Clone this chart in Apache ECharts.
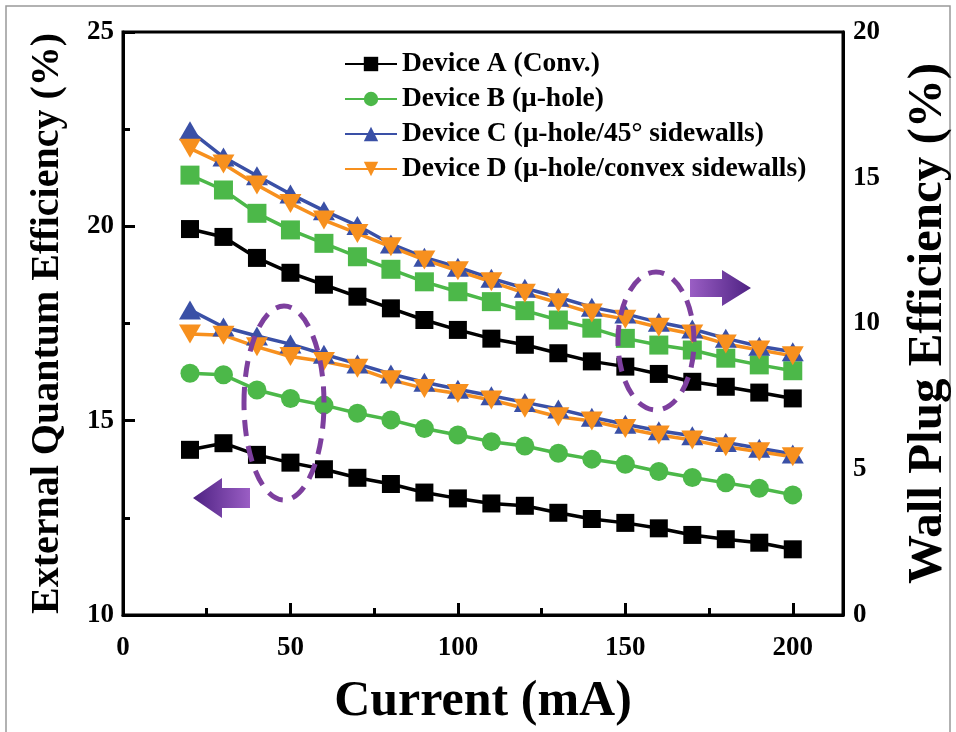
<!DOCTYPE html>
<html>
<head>
<meta charset="utf-8">
<script src="https://cdn.jsdelivr.net/npm/echarts@6/dist/echarts.min.js"></script>
<style>html,body{margin:0;padding:0;background:#fff;}#chart{width:956px;height:732px;}</style>
</head>
<body>
<div id="chart"></div>
<script>
const current = [20,30,40,50,60,70,80,90,100,110,120,130,140,150,160,170,180,190,200];
const seriesNames = ['Device A (Conv.)','Device B (\u03bc-hole)','Device C (\u03bc-hole/45\u00b0 sidewalls)','Device D (\u03bc-hole/convex sidewalls)'];
// External Quantum Efficiency (%), left axis
const eqeA = [14.25,14.42,14.12,13.92,13.75,13.53,13.37,13.15,13.00,12.87,12.81,12.63,12.47,12.37,12.23,12.06,11.95,11.86,11.69];
const eqeB = [16.22,16.18,15.79,15.57,15.40,15.19,15.02,14.80,14.63,14.46,14.35,14.16,14.01,13.88,13.69,13.54,13.40,13.26,13.09];
const eqeC = [17.85,17.41,17.18,16.97,16.71,16.46,16.20,15.99,15.81,15.64,15.47,15.30,15.09,14.91,14.74,14.61,14.44,14.29,14.14];
const eqeD = [17.23,17.20,16.90,16.65,16.52,16.35,16.05,15.83,15.70,15.53,15.32,15.10,14.99,14.80,14.63,14.50,14.33,14.20,14.07];
// Wall Plug Efficiency (%), right axis
const wpeA = [13.24,12.97,12.25,11.74,11.33,10.92,10.52,10.12,9.78,9.48,9.27,8.98,8.70,8.52,8.27,8.00,7.83,7.63,7.43];
const wpeB = [15.09,14.58,13.78,13.21,12.75,12.29,11.86,11.43,11.09,10.75,10.44,10.12,9.84,9.49,9.26,9.09,8.81,8.58,8.38];
const wpeC = [16.61,15.71,15.07,14.44,13.87,13.36,12.73,12.27,11.93,11.55,11.21,10.90,10.56,10.33,10.04,9.81,9.49,9.22,9.03];
const wpeD = [16.01,15.47,14.75,14.12,13.55,13.09,12.63,12.18,11.81,11.43,11.04,10.71,10.36,10.15,9.87,9.64,9.30,9.09,8.89];
const xTickLabels = ['0','50','100','150','200'];
const leftTickLabels = ['10','15','20','25'];
const rightTickLabels = ['0','5','10','15','20'];

const FONT = "'Liberation Serif','Times New Roman',serif";
const colors = ['#000000','#4cb849','#3a50a6','#f7901e'];
const eqeSymbols = ['rect','circle','triangle','path://M0,0 L10,0 L5,8.66 Z'];
const wpeSymbols = ['rect','rect','triangle','path://M0,0 L10,0 L5,8.66 Z'];
const symSizes = [18,19,[22,19],[22,19]];

function pairs(ys){ return current.map((x,i)=>[x,ys[i]]); }
function mk(name, ys, axis, color, symbol, size){
  return {
    name: name, type: 'line', yAxisIndex: axis, data: pairs(ys),
    symbol: symbol, symbolSize: size, showSymbol: true,
    lineStyle: {color: color, width: 3.5},
    itemStyle: {color: color, borderWidth: 0},
    emphasis: {disabled: true}, animation: false
  };
}
const eqeData = [eqeA,eqeB,eqeC,eqeD];
const wpeData = [wpeA,wpeB,wpeC,wpeD];
const series = [];
for (let i=0;i<4;i++) series.push(mk(seriesNames[i], eqeData[i], 0, colors[i], eqeSymbols[i], symSizes[i]));
for (let i=0;i<4;i++) series.push(mk(seriesNames[i], wpeData[i], 1, colors[i], wpeSymbols[i], symSizes[i]));

const chart = echarts.init(document.getElementById('chart'), null, {renderer:'canvas'});
const labelStyle = {color:'#000', fontFamily: FONT, fontWeight:'bold', fontSize: 27};
chart.setOption({
  backgroundColor: '#fff',
  animation: false,
  grid: {left: 123, right: 113, top: 32, bottom: 117, containLabel: false, outerBoundsMode: 'none',
    show: true, borderColor: '#000', borderWidth: 3, backgroundColor: 'transparent'},
  legend: {
    data: seriesNames, orient: 'vertical', left: 339, top: 45,
    itemWidth: 52, itemHeight: 18, itemGap: 7,
    textStyle: {color:'#000', fontFamily: FONT, fontWeight:'bold', fontSize: 27.5, lineHeight: 27}
  },
  xAxis: {
    type: 'value', min: 0, max: 215, interval: 50,
    name: 'Current (mA)', nameLocation: 'middle', nameGap: 62,
    nameTextStyle: {color:'#000', fontFamily: FONT, fontWeight:'bold', fontSize: 50},
    axisLine: {show: true, lineStyle: {color:'#000', width: 3}},
    axisTick: {show: true, inside: true, length: 12, lineStyle: {color:'#000', width: 3}},
    minorTick: {show: true, splitNumber: 2, length: 7, lineStyle: {color:'#000', width: 3}},
    splitLine: {show: false},
    axisLabel: Object.assign({margin: 20, showMaxLabel: false,
      formatter: v => xTickLabels.indexOf(String(v)) >= 0 ? String(v) : ''}, labelStyle)
  },
  yAxis: [{
    type: 'value', min: 10, max: 25, interval: 5, position: 'left',
    name: 'External Quantum Efficiency (%)', nameLocation: 'middle', nameGap: 55, nameRotate: 90,
    nameTextStyle: {color:'#000', fontFamily: FONT, fontWeight:'bold', fontSize: 40},
    axisLine: {show: true, lineStyle: {color:'#000', width: 3}},
    axisTick: {show: true, inside: true, length: 12, lineStyle: {color:'#000', width: 3}},
    minorTick: {show: true, splitNumber: 2, length: 7, lineStyle: {color:'#000', width: 3}},
    splitLine: {show: false},
    axisLabel: Object.assign({margin: 9, formatter: v => leftTickLabels.indexOf(String(v)) >= 0 ? String(v) : ''}, labelStyle)
  },{
    type: 'value', min: 0, max: 20, interval: 5, position: 'right',
    name: 'Wall Plug Efficiency (%)', nameLocation: 'middle', nameGap: 61, nameRotate: 90,
    nameTextStyle: {color:'#000', fontFamily: FONT, fontWeight:'bold', fontSize: 49},
    axisLine: {show: true, lineStyle: {color:'#000', width: 3}},
    axisTick: {show: false},
    splitLine: {show: false},
    axisLabel: Object.assign({margin: 10, formatter: v => rightTickLabels.indexOf(String(v)) >= 0 ? String(v) : ''}, labelStyle)
  }],
  series: series,
  graphic: [
    {type:'rect', shape:{x:6, y:6, width:944, height:740}, style:{fill:'none', stroke:'#999', lineWidth:1.5}, silent:true, z:-1},
    {type:'ellipse', shape:{cx:284, cy:403, rx:40, ry:97}, style:{fill:'none', stroke:'#7d3f9e', lineWidth:5, lineDash:[16,10]}, silent:true, z:100},
    {type:'ellipse', shape:{cx:656, cy:341, rx:38, ry:69}, style:{fill:'none', stroke:'#7d3f9e', lineWidth:5, lineDash:[16,10]}, silent:true, z:100},
    {type:'polygon', shape:{points:[[690,279],[722,279],[722,270],[751,288],[722,306],[722,297],[690,297]]},
      style:{fill:new echarts.graphic.LinearGradient(0,0,1,0,[{offset:0,color:'#9a5ec4'},{offset:1,color:'#4e2283'}])}, silent:true, z:100},
    {type:'polygon', shape:{points:[[250,488],[222,488],[222,478],[193,498],[222,518],[222,508],[250,508]]},
      style:{fill:new echarts.graphic.LinearGradient(1,0,0,0,[{offset:0,color:'#9a5ec4'},{offset:1,color:'#4e2283'}])}, silent:true, z:100}
  ]
});
</script>
</body>
</html>
